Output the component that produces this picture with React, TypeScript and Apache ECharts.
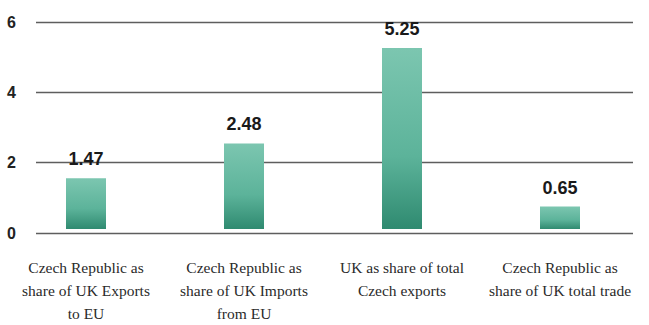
import React, { useEffect, useRef } from "react";
import * as echarts from "echarts";

const categories = [
  "Czech Republic as\nshare of UK Exports\nto EU",
  "Czech Republic as\nshare of UK Imports\nfrom EU",
  "UK as share of total\nCzech exports",
  "Czech Republic as\nshare of UK total trade",
];
const values = [1.47, 2.48, 5.25, 0.65];
const yTicks = [0, 2, 4, 6];

export default function App() {
  const ref = useRef<HTMLDivElement>(null);
  useEffect(() => {
    const chart = echarts.init(ref.current!, null, { renderer: "svg" });
    chart.setOption({
      animation: false,
      backgroundColor: "#ffffff",
      grid: [
        { left: 36, right: 16, top: 22, bottom: 92 },
        { left: 7, right: 10, top: 22, bottom: 92 },
      ],
      xAxis: [
        { type: "category", gridIndex: 0, data: categories, show: false },
        {
          type: "category",
          gridIndex: 1,
          data: categories,
          axisLine: { show: false },
          axisTick: { show: false },
          axisLabel: {
            interval: 0,
            margin: 27,
            fontFamily: "Liberation Serif, serif",
            fontSize: 15.5,
            lineHeight: 23,
            color: "#2a2a2a",
          },
        },
      ],
      yAxis: [
        {
          type: "value",
          gridIndex: 0,
          min: 0,
          max: 6,
          interval: 2,
          axisLine: { show: false },
          axisTick: { show: false },
          splitLine: { lineStyle: { color: "#5e5e5e", width: 1.3 } },
          axisLabel: {
            margin: 20,
            fontFamily: "Liberation Sans, Arial, sans-serif",
            fontWeight: "bold",
            fontSize: 16,
            color: "#222",
            formatter: (v: number) => (yTicks.includes(v) ? String(v) : ""),
          },
        },
        { type: "value", gridIndex: 1, min: 0, max: 6, interval: 2, show: false },
      ],
      series: [
        {
          type: "bar",
          xAxisIndex: 1,
          yAxisIndex: 1,
          data: values,
          barWidth: 40,
          itemStyle: {
            color: new echarts.graphic.LinearGradient(0, 0, 0, 1, [
              { offset: 0, color: "#7cc6b0" },
              { offset: 0.6, color: "#5cb39a" },
              { offset: 1, color: "#2f8a70" },
            ]),
          },
          label: {
            show: true,
            position: "top",
            distance: 10,
            fontFamily: "Liberation Sans, Arial, sans-serif",
            fontWeight: "bold",
            fontSize: 18,
            color: "#1a1a1a",
            formatter: (p: any) => p.value.toFixed(2),
          },
        },
      ],
    });
    return () => chart.dispose();
  }, []);
  return <div ref={ref} style={{ width: 649, height: 325, position: "absolute", left: 0, top: 0 }} />;
}
